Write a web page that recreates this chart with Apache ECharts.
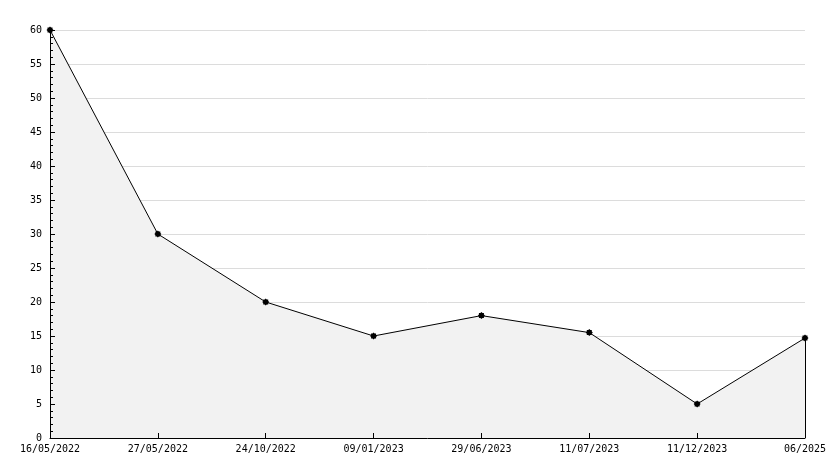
<!DOCTYPE html>
<html><head><meta charset="utf-8">
<script src="https://cdn.jsdelivr.net/npm/echarts@6/dist/echarts.min.js"></script>
<style>html,body{margin:0;padding:0;background:#fff}#c{width:834px;height:468px}</style>
</head><body><div id="c"></div>
<script>
const categories = ['16/05/2022','27/05/2022','24/10/2022','09/01/2023','29/06/2023','11/07/2023','11/12/2023','06/2025'];
const values = [60, 30, 20, 15, 18, 15.5, 5, 14.7];
const yMin = 0, yMax = 60, yStep = 5;
const font = 'DejaVu Sans Mono';
const star = 'path://M0,-1 L0.3,-0.72 L0.71,-0.71 L0.72,-0.3 L1,0 L0.72,0.3 L0.71,0.71 L0.3,0.72 L0,1 L-0.3,0.72 L-0.71,0.71 L-0.72,0.3 L-1,0 L-0.72,-0.3 L-0.71,-0.71 L-0.3,-0.72 Z';
const chart = echarts.init(document.getElementById('c'), null, {renderer:'canvas'});
const lastIdx = categories.length - 1;
chart.setOption({
  animation:false,
  backgroundColor:'#fff',
  grid:{left:50,right:29,top:30,bottom:30,containLabel:false},
  xAxis:[
    {type:'category',data:categories,boundaryGap:false,z:0,
     axisLine:{show:false},axisTick:{show:false},axisLabel:{show:false},splitLine:{show:false}},
    {type:'category',data:categories,boundaryGap:false,position:'bottom',z:5,
     axisLine:{show:true,onZero:false,lineStyle:{color:'#000',width:1}},
     axisTick:{show:true,inside:true,length:5,lineStyle:{color:'#000'}},
     axisLabel:{color:'#000',fontFamily:font,fontSize:10,margin:6,interval:0},
     splitLine:{show:false}}
  ],
  yAxis:[
    {type:'value',min:yMin,max:yMax,interval:yStep,z:0,
     axisLine:{show:false},axisTick:{show:false},axisLabel:{show:false},
     splitLine:{show:true,lineStyle:{color:'#dcdcdc',width:1}}},
    {type:'value',min:yMin,max:yMax,interval:yStep,z:5,position:'left',
     axisLine:{show:true,onZero:false,lineStyle:{color:'#000',width:1}},
     axisTick:{show:true,inside:true,length:5,lineStyle:{color:'#000'}},
     minorTick:{show:true,splitNumber:5,length:3,lineStyle:{color:'#000'}},
     axisLabel:{color:'#000',fontFamily:font,fontSize:10,margin:8},
     splitLine:{show:false}}
  ],
  series:[{type:'line',data:values,xAxisIndex:0,yAxisIndex:0,z:2,
    symbol:star,symbolSize:7,
    itemStyle:{color:'#000'},lineStyle:{color:'#000',width:1},
    areaStyle:{color:'#f2f2f2',opacity:1},
    markLine:{silent:true,symbol:'none',label:{show:false},
      lineStyle:{color:'#000',width:1,type:'solid'},
      data:[[{coord:[lastIdx, yMin]},{coord:[lastIdx, values[lastIdx]]}]]}
  }]
});
</script></body></html>
